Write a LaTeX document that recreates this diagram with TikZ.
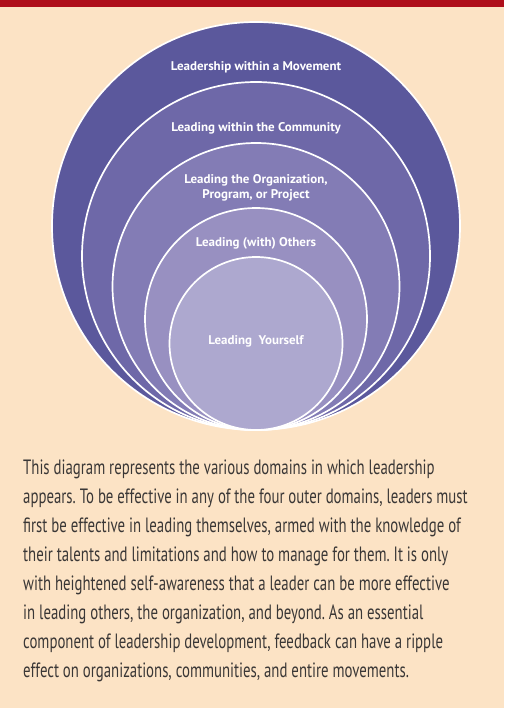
\documentclass[tikz,border=0pt]{standalone}
\usepackage{fontspec}
\setmainfont{PT Sans}
\newfontfamily\bodyfont[FakeStretch=0.715]{PT Sans}
\newfontfamily\labelfont[FakeStretch=1.03]{PT Sans Bold}
\definecolor{bg}{HTML}{FCE3C5}
\definecolor{topbar}{HTML}{AF0E1B}
\definecolor{c1}{HTML}{5B589C}
\definecolor{c2}{HTML}{6E68A8}
\definecolor{c3}{HTML}{837CB5}
\definecolor{c4}{HTML}{9890C1}
\definecolor{c5}{HTML}{ADA8CF}
\definecolor{bodytext}{HTML}{3A3736}
\frenchspacing
\begin{document}
\begin{tikzpicture}[x=1pt,y=-1pt,
  ring/.style={draw=white,line width=1.7pt},
  lbl/.style={text=white,font=\labelfont\fontsize{12.6}{15}\selectfont,align=center,inner sep=0pt},
  bodyline/.style={anchor=base west,inner sep=0pt,text=bodytext,font=\bodyfont\fontsize{20.7}{29}\selectfont}]
\useasboundingbox (0,0) rectangle (504,708);
\fill[bg] (0,0) rectangle (504,708);
\fill[topbar] (0,0) rectangle (504,7);
\filldraw[ring,fill=c1] (256,226) circle[radius=204pt];
\filldraw[ring,fill=c2] (256,256) circle[radius=174pt];
\filldraw[ring,fill=c3] (256,286.5) circle[radius=143.5pt];
\filldraw[ring,fill=c4] (256,319) circle[radius=111pt];
\filldraw[ring,fill=c5] (256,343.5) circle[radius=86.5pt];
\node[lbl] (movement) at (256,67) {Leadership within a Movement};
\node[lbl] (community) at (256,128) {Leading within the Community};
\node[lbl] (organization) at (256,187.5) {Leading the Organization,\\Program, or Project};
\node[lbl] (others) at (256,243) {Leading (with) Others};
\node[lbl] (yourself) at (256,341) {Leading\ \ Yourself};
\node[bodyline] (l1) at (23,474) {This diagram represents the various domains in which leadership};
\node[bodyline] (l2) at (23,503) {appears. To be effective in any of the four outer domains, leaders must};
\node[bodyline] (l3) at (23,532) {first be effective in leading themselves, armed with the knowledge of};
\node[bodyline] (l4) at (23,561) {their talents and limitations and how to manage for them. It is only};
\node[bodyline] (l5) at (23,590) {with heightened self-awareness that a leader can be more effective};
\node[bodyline] (l6) at (23,619) {in leading others, the organization, and beyond. As an essential};
\node[bodyline] (l7) at (23,648) {component of leadership development, feedback can have a ripple};
\node[bodyline] (l8) at (23,677) {effect on organizations, communities, and entire movements.};
\end{tikzpicture}
\end{document}
